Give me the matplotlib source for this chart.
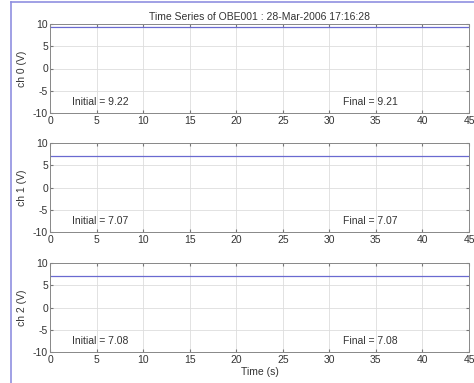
import matplotlib.pyplot as plt
from matplotlib.lines import Line2D

plt.rcParams["font.family"] = ["Liberation Sans", "DejaVu Sans"]
plt.rcParams["axes.unicode_minus"] = False

title = "Time Series of OBE001 : 28-Mar-2006 17:16:28"
channels = ["ch 0 (V)", "ch 1 (V)", "ch 2 (V)"]
time_s = [0, 5, 10, 15, 20, 25, 30, 35, 40, 45]
ch0 = [9.22, 9.22, 9.22, 9.21, 9.21, 9.21, 9.21, 9.21, 9.21, 9.21]
ch1 = [7.07, 7.07, 7.07, 7.07, 7.07, 7.07, 7.07, 7.07, 7.07, 7.07]
ch2 = [7.08, 7.08, 7.08, 7.08, 7.08, 7.08, 7.08, 7.08, 7.08, 7.08]
initial = [9.22, 7.07, 7.08]
final = [9.21, 7.07, 7.08]
xticks = [0, 5, 10, 15, 20, 25, 30, 35, 40, 45]
yticks = [-10, -5, 0, 5, 10]

fig = plt.figure(figsize=(4.74, 3.83), dpi=100)
W, H = 474, 383
tops = [24, 143, 263]
height = 89
left, right = 50, 469

series = [ch0, ch1, ch2]
txt = "#333333"
fs = 7.5
for i, top in enumerate(tops):
    ax = fig.add_axes([left / W, 1 - (top + height) / H, (right - left) / W, height / H])
    ax.plot(time_s, series[i], color="#6a6ad0", lw=0.9)
    ax.set_xlim(0, 45)
    ax.set_ylim(-10, 10)
    ax.set_xticks(xticks)
    ax.set_yticks(yticks)
    ax.grid(True, color="#dddddd", lw=0.6)
    ax.tick_params(direction="in", length=2.5, top=True, right=True, labelsize=fs,
                   colors="#777777", labelcolor=txt, pad=1.5)
    ax.tick_params(axis="x", pad=2.5)
    for s in ax.spines.values():
        s.set_color("#888888")
        s.set_linewidth(0.7)
    ax.set_ylabel(channels[i], fontsize=fs, color=txt, labelpad=4)
    ax.text(2.4, -7.6, f"Initial = {initial[i]:.2f}", fontsize=fs, color=txt, va="center")
    ax.text(31.5, -7.6, f"Final = {final[i]:.2f}", fontsize=fs, color=txt, va="center")
    if i == 0:
        ax.set_title(title, fontsize=fs, color=txt, pad=3)
    if i == 2:
        ax.set_xlabel("Time (s)", fontsize=fs, color=txt, labelpad=1)

# screenshot frame on the top and left edges
fig.add_artist(Line2D([11 / W, 11 / W], [0, 1 - 2 / H], color="#9090e0", lw=1.2))
fig.add_artist(Line2D([11 / W, 1], [1 - 2 / H, 1 - 2 / H], color="#9090e0", lw=1.2))

fig.savefig("out.png", dpi=100)
